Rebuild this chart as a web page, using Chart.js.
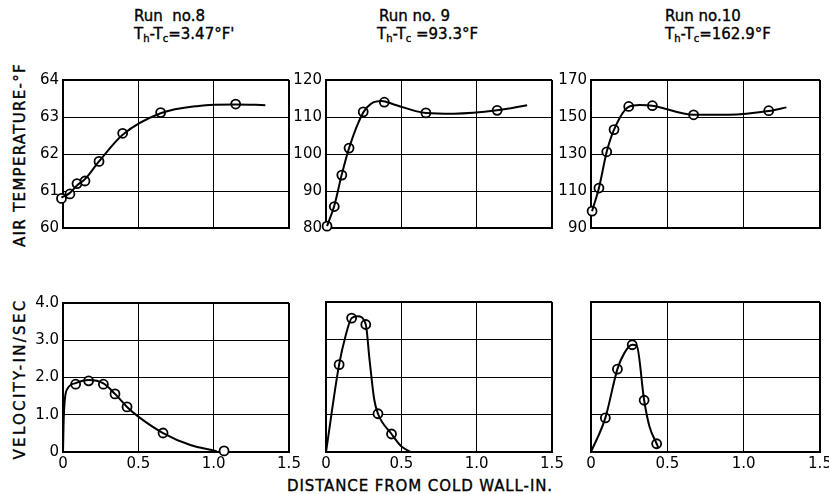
<!DOCTYPE html>
<html>
<head>
<meta charset="utf-8">
<script src="https://cdn.jsdelivr.net/npm/chart.js@4.4.1/dist/chart.umd.min.js"></script>
<style>
  html, body { margin: 0; padding: 0; background: #fff; }
  #wrap { position: relative; width: 829px; height: 494px; overflow: hidden; background: #fff; font-family: "DejaVu Sans", sans-serif; color: #000; }
  canvas { position: absolute; }
  .t { position: absolute; white-space: nowrap; font-size: 15px; line-height: 15px; -webkit-text-stroke: 0.35px #000; }
  .t sub { font-size: 10px; vertical-align: -3px; line-height: 0; }
  .rot { position: absolute; white-space: nowrap; font-size: 15px; line-height: 15px; letter-spacing: 1.3px; -webkit-text-stroke: 0.35px #000; transform: translate(-50%, -50%) rotate(-90deg); }
</style>
</head>
<body>
<div id="wrap">
  <div class="t" style="left:134px;top:9px;">Run&nbsp; no.8</div>
  <div class="t" style="left:134px;top:27px;">T<sub>h</sub>-T<sub>c</sub>=3.47°F'</div>
  <div class="t" style="left:379px;top:9px;">Run no. 9</div>
  <div class="t" style="left:377px;top:27px;">T<sub>h</sub>-T<sub>c</sub> =93.3°F</div>
  <div class="t" style="left:665px;top:9px;">Run no.10</div>
  <div class="t" style="left:665px;top:27px;">T<sub>h</sub>-T<sub>c</sub>=162.9°F</div>
  <div class="rot" style="left:20px;top:155px;">AIR TEMPERATURE-°F</div>
  <div class="rot" style="left:20px;top:379px;letter-spacing:2.3px;">VELOCITY-IN/SEC</div>
  <div class="t" style="left:420px;top:479px;transform:translateX(-50%);letter-spacing:0.9px;">DISTANCE FROM COLD WALL-IN.</div>
</div>
<script>
// ---- Axis ticks ----
const xTickValues = [0, 0.5, 1.0, 1.5];
const xTickLabels = ['0', '0.5', '1.0', '1.5'];
const run8TempTicks = [60, 61, 62, 63, 64];
const run9TempTicks = [80, 90, 100, 110, 120];
const run10TempTicks = [90, 110, 130, 150, 170];
const velTickValues = [0, 1, 2, 3, 4];
const velTickLabels = ['0', '1.0', '2.0', '3.0', '4.0'];

// ---- Run 8 air temperature ----
const run8TempX = [-0.01, 0.046, 0.093, 0.146, 0.239, 0.396, 0.648, 1.146];
const run8TempY = [60.8, 60.92, 61.2, 61.27, 61.8, 62.56, 63.12, 63.35];
const run8TempCurveX = [-0.01, 0.046, 0.093, 0.146, 0.239, 0.396, 0.648, 0.9, 1.146, 1.343];
const run8TempCurveY = [60.82, 60.95, 61.15, 61.32, 61.8, 62.52, 63.1, 63.3, 63.34, 63.32];

// ---- Run 9 air temperature ----
const run9TempX = [0.007, 0.055, 0.105, 0.153, 0.247, 0.387, 0.663, 1.136];
const run9TempY = [80.5, 85.8, 94.3, 101.6, 111.4, 114.0, 111.1, 111.8];
const run9TempCurveX = [0.007, 0.055, 0.105, 0.153, 0.247, 0.30, 0.37, 0.45, 0.663, 0.85, 1.136, 1.335];
const run9TempCurveY = [80.5, 86.0, 94.5, 101.6, 111.2, 113.6, 114.3, 113.4, 111.1, 110.9, 111.8, 113.2];

// ---- Run 10 air temperature ----
const run10TempX = [0.007, 0.052, 0.103, 0.151, 0.247, 0.402, 0.672, 1.164];
const run10TempY = [99.1, 111.6, 131.2, 143.2, 155.7, 156.1, 151.2, 153.4];
const run10TempCurveX = [0.007, 0.052, 0.103, 0.151, 0.247, 0.32, 0.402, 0.672, 0.9, 1.164, 1.28];
const run10TempCurveY = [99.1, 111.6, 131.2, 143.2, 155.5, 156.5, 156.1, 151.2, 151.2, 153.2, 155.2];

// ---- Run 8 velocity ----
const run8VelX = [0.084, 0.170, 0.268, 0.345, 0.425, 0.664, 1.069];
const run8VelY = [1.82, 1.91, 1.82, 1.56, 1.21, 0.51, 0.03];
const run8VelCurveX = [0, 0.004, 0.012, 0.03, 0.084, 0.17, 0.268, 0.345, 0.425, 0.5, 0.664, 0.85, 1.0, 1.02];
const run8VelCurveY = [0, 0.8, 1.4, 1.7, 1.85, 1.93, 1.84, 1.56, 1.21, 0.95, 0.51, 0.18, 0.04, 0.02];

// ---- Run 9 velocity ----
const run9VelX = [0.087, 0.170, 0.264, 0.345, 0.435];
const run9VelY = [2.33, 3.57, 3.40, 1.02, 0.48];
const run9VelCurveX = [0, 0.087, 0.13, 0.17, 0.21, 0.264, 0.289, 0.32, 0.345, 0.435, 0.50, 0.562];
const run9VelCurveY = [0, 2.33, 3.1, 3.57, 3.62, 3.40, 2.46, 1.4, 1.02, 0.48, 0.15, 0];

// ---- Run 10 velocity ----
const run10VelX = [0.094, 0.173, 0.270, 0.348, 0.430];
const run10VelY = [0.91, 2.21, 2.86, 1.38, 0.22];
const run10VelCurveX = [0, 0.094, 0.173, 0.22, 0.27, 0.30, 0.348, 0.383, 0.43, 0.44];
const run10VelCurveY = [0, 0.91, 2.21, 2.65, 2.86, 2.83, 1.38, 0.68, 0.22, 0.12];

function pts(xs, ys) { return xs.map((x, i) => ({ x: x, y: ys[i] })); }

const FONT = { family: 'DejaVu Sans', size: 15 };
const PADL = 55, PADT = 12, PADR = 16, PADB = 30;

function makePanel(opt) {
  const wrap = document.getElementById('wrap');
  const c = document.createElement('canvas');
  const w = opt.plotW + PADL + PADR, h = opt.plotH + PADT + PADB;
  c.width = w; c.height = h;
  c.style.width = w + 'px'; c.style.height = h + 'px';
  c.style.left = (opt.left - PADL) + 'px';
  c.style.top = (opt.top - PADT) + 'px';
  wrap.appendChild(c);
  const ymin = opt.yTicks[0], ymax = opt.yTicks[opt.yTicks.length - 1];
  new Chart(c.getContext('2d'), {
    type: 'line',
    data: {
      datasets: [
        { data: pts(opt.curveX, opt.curveY), borderColor: '#000', borderWidth: 2, pointRadius: 0,
          cubicInterpolationMode: 'monotone', fill: false, clip: false },
        { data: pts(opt.px, opt.py), showLine: false, pointRadius: 4.5, pointBorderWidth: 1.8,
          pointBackgroundColor: '#fff', pointBorderColor: '#000', clip: false }
      ]
    },
    options: {
      responsive: false, animation: false, devicePixelRatio: 1,
      layout: { padding: { left: 0, top: PADT, right: PADR, bottom: 0 } },
      plugins: { legend: { display: false }, tooltip: { enabled: false } },
      scales: {
        x: {
          type: 'linear', min: 0, max: 1.5,
          afterFit: s => { s.height = PADB; },
          afterBuildTicks: s => { s.ticks = xTickValues.map(v => ({ value: v })); },
          ticks: { display: opt.showX, font: FONT, color: '#000', padding: 3,
                   maxRotation: 0, autoSkip: false,
                   callback: v => xTickLabels[xTickValues.indexOf(v)] },
          grid: { color: '#000', drawTicks: false,
                  lineWidth: ctx => (ctx.tick && (ctx.tick.value === 0 || ctx.tick.value === 1.5)) ? 2 : 1 },
          border: { display: true, color: '#000', width: 2 }
        },
        y: {
          type: 'linear', min: ymin, max: ymax,
          afterFit: s => { s.width = PADL; },
          afterBuildTicks: s => { s.ticks = opt.yTicks.map(v => ({ value: v })); },
          ticks: { display: opt.showY, font: FONT, color: '#000', padding: 4, autoSkip: false,
                   callback: v => opt.yLabels[opt.yTicks.indexOf(v)] },
          grid: { color: '#000', drawTicks: false,
                  lineWidth: ctx => (ctx.tick && (ctx.tick.value === ymin || ctx.tick.value === ymax)) ? 2 : 1 },
          border: { display: true, color: '#000', width: 2 }
        }
      }
    }
  });
}

const cols = [ { left: 63, w: 226 }, { left: 326, w: 226 }, { left: 591, w: 229 } ];
const rows = [ { top: 79, h: 149 }, { top: 302, h: 150 } ];

makePanel({ left: cols[0].left, plotW: cols[0].w, top: rows[0].top, plotH: rows[0].h,
  yTicks: run8TempTicks, yLabels: run8TempTicks.map(String), showX: false, showY: true,
  px: run8TempX, py: run8TempY, curveX: run8TempCurveX, curveY: run8TempCurveY });
makePanel({ left: cols[1].left, plotW: cols[1].w, top: rows[0].top, plotH: rows[0].h,
  yTicks: run9TempTicks, yLabels: run9TempTicks.map(String), showX: false, showY: true,
  px: run9TempX, py: run9TempY, curveX: run9TempCurveX, curveY: run9TempCurveY });
makePanel({ left: cols[2].left, plotW: cols[2].w, top: rows[0].top, plotH: rows[0].h,
  yTicks: run10TempTicks, yLabels: run10TempTicks.map(String), showX: false, showY: true,
  px: run10TempX, py: run10TempY, curveX: run10TempCurveX, curveY: run10TempCurveY });
makePanel({ left: cols[0].left, plotW: cols[0].w, top: rows[1].top, plotH: rows[1].h,
  yTicks: velTickValues, yLabels: velTickLabels, showX: true, showY: true,
  px: run8VelX, py: run8VelY, curveX: run8VelCurveX, curveY: run8VelCurveY });
makePanel({ left: cols[1].left, plotW: cols[1].w, top: rows[1].top, plotH: rows[1].h,
  yTicks: velTickValues, yLabels: velTickLabels, showX: true, showY: false,
  px: run9VelX, py: run9VelY, curveX: run9VelCurveX, curveY: run9VelCurveY });
makePanel({ left: cols[2].left, plotW: cols[2].w, top: rows[1].top, plotH: rows[1].h,
  yTicks: velTickValues, yLabels: velTickLabels, showX: true, showY: false,
  px: run10VelX, py: run10VelY, curveX: run10VelCurveX, curveY: run10VelCurveY });
</script>
</body>
</html>
